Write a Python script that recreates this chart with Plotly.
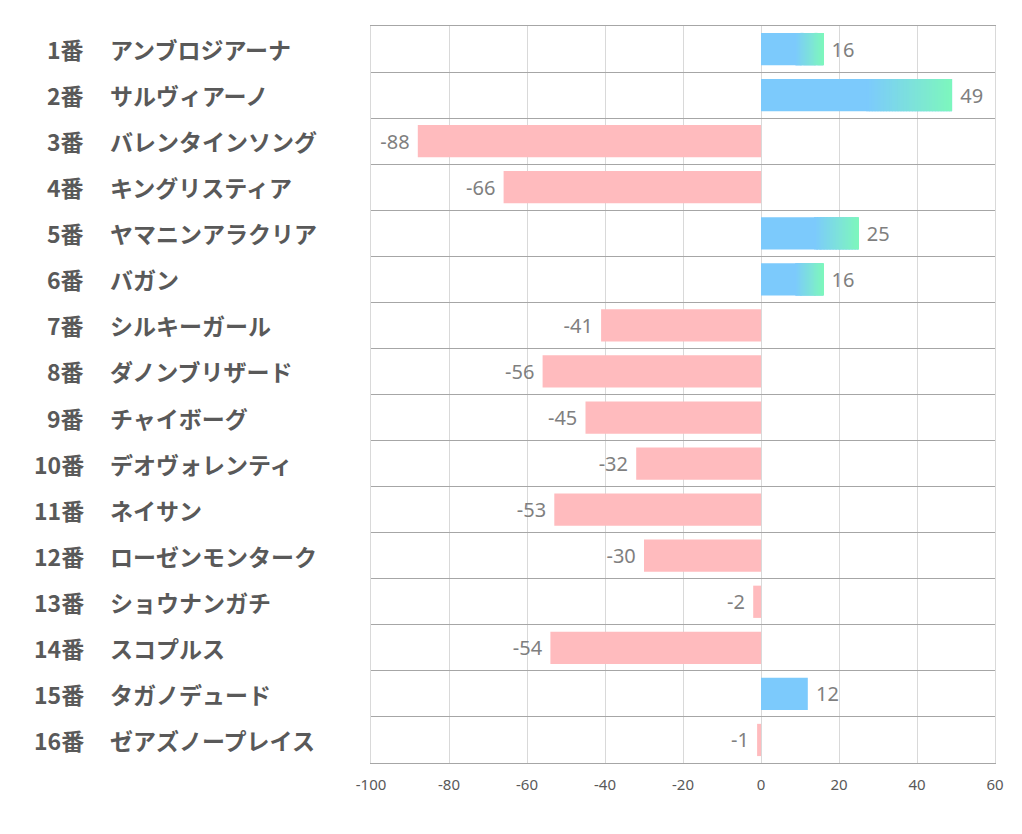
import plotly.graph_objects as go

numbers = ["1番", "2番", "3番", "4番", "5番", "6番", "7番", "8番",
           "9番", "10番", "11番", "12番", "13番", "14番", "15番", "16番"]
names = ["アンブロジアーナ", "サルヴィアーノ", "バレンタインソング", "キングリスティア",
         "ヤマニンアラクリア", "バガン", "シルキーガール", "ダノンブリザード",
         "チャイボーグ", "デオヴォレンティ", "ネイサン", "ローゼンモンターク",
         "ショウナンガチ", "スコプルス", "タガノデュード", "ゼアズノープレイス"]
values = [16, 49, -88, -66, 25, 16, -41, -56, -45, -32, -53, -30, -2, -54, 12, -1]
x_ticks = [-100, -80, -60, -40, -20, 0, 20, 40, 60]

BLUE = (124, 202, 252)
GREEN = (125, 246, 190)
PINK = "#ffbbbe"

pos = list(range(len(values)))
fig = go.Figure()

base_colors = ["rgb(%d,%d,%d)" % BLUE if v > 0 else PINK for v in values]
labels = [(" %d" % v) if v > 0 else ("%d " % v) for v in values]
fig.add_trace(go.Bar(
    x=values, y=pos, orientation="h", width=0.7,
    marker=dict(color=base_colors, line=dict(width=0)),
    text=labels, textposition="outside",
    constraintext="none", cliponaxis=False,
    textfont=dict(family="Noto Sans", size=20, color="#7f7f7f"),
    hoverinfo="skip", showlegend=False,
))

# gradient overlay for longer positive bars
N = 30
grad_idx = [i for i, v in enumerate(values) if v >= 15]
for k in range(N):
    t = k / (N - 1)
    col = tuple(round(BLUE[j] + (GREEN[j] - BLUE[j]) * t) for j in range(3))
    bases, lens, ys = [], [], []
    for i in grad_idx:
        v = values[i]
        start = 0.55 * v
        seg = (v - start) / N
        b = start + k * seg
        bases.append(b)
        lens.append(min(seg * 1.3, v - b))
        ys.append(i)
    fig.add_trace(go.Bar(
        x=lens, y=ys, base=bases, orientation="h", width=0.7,
        marker=dict(color="rgb(%d,%d,%d)" % col, line=dict(width=0)),
        hoverinfo="skip", showlegend=False,
    ))

annotations = []
for i in pos:
    annotations.append(dict(
        x=-0.456, y=i, xref="paper", yref="y", text="<b>%s</b>" % numbers[i],
        xanchor="right", yanchor="middle", showarrow=False,
        font=dict(family="Noto Sans CJK JP", size=23, color="#595959")))
    annotations.append(dict(
        x=-0.4215, y=i, xref="paper", yref="y", text="<b>%s</b>" % names[i],
        xanchor="left", yanchor="middle", showarrow=False,
        font=dict(family="Noto Sans CJK JP", size=23, color="#595959")))

fig.update_layout(
    width=1022, height=834,
    margin=dict(l=363, r=35, t=18, b=79),
    paper_bgcolor="white", plot_bgcolor="white",
    barmode="overlay", bargap=0.3,
    annotations=annotations,
    xaxis=dict(range=[-100, 60], tickvals=x_ticks, ticktext=[str(t) for t in x_ticks],
               showgrid=True, gridcolor="#d9d9d9", gridwidth=1, zeroline=False,
               showline=True, linecolor="#a6a6a6", linewidth=1, mirror=True,
               ticks="", ticklabelstandoff=8,
               tickfont=dict(family="Noto Sans", size=15, color="#595959"),
               fixedrange=True),
    yaxis=dict(range=[len(values) - 0.5, -0.5],
               tickvals=[i - 0.5 for i in range(len(values) + 1)],
               showticklabels=False, showgrid=True, gridcolor="#a6a6a6", gridwidth=1,
               zeroline=False, showline=True, linecolor="#d9d9d9", mirror=True,
               ticks="", fixedrange=True),
)

fig.write_html("out.html")
